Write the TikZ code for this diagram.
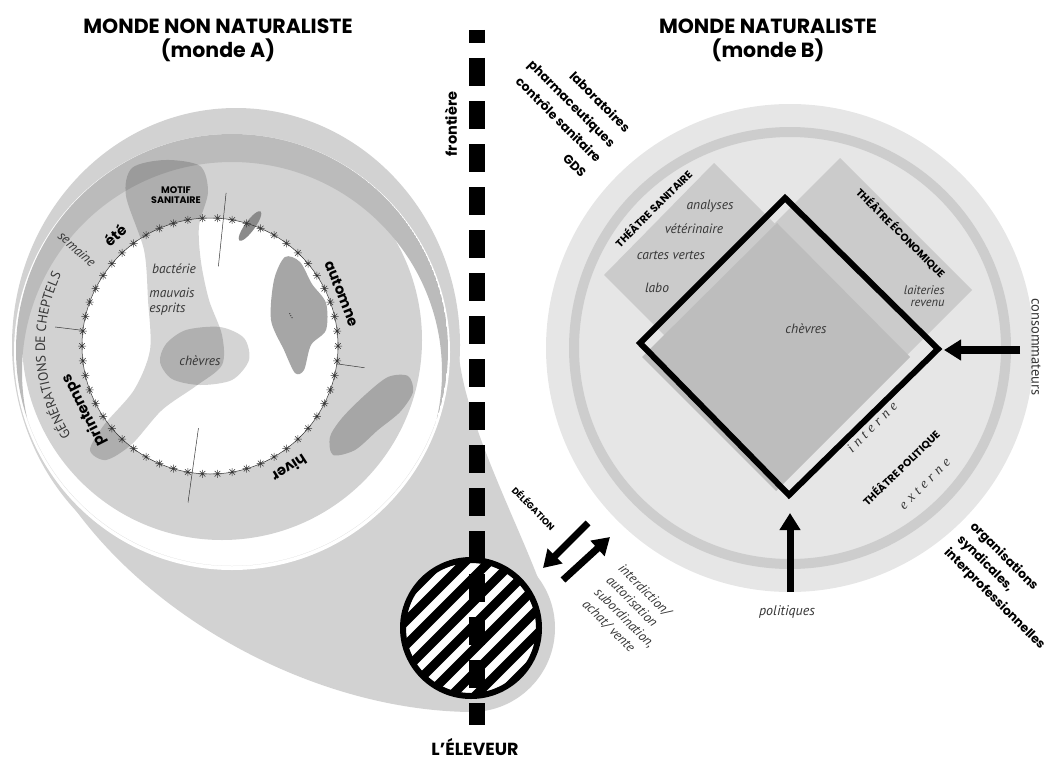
\documentclass[tikz,border=0pt]{standalone}
\usepackage{fontspec}
\setmainfont{PT Sans}
\newfontfamily\popfont{Poppins}
\newfontfamily\spacedserif[LetterSpace=30]{Liberation Serif}
\usetikzlibrary{calc,positioning,arrows.meta,decorations.text}
\definecolor{paleA}{HTML}{D2D2D2}
\definecolor{bandA}{HTML}{BBBBBB}
\definecolor{blobA}{HTML}{A6A6A6}
\definecolor{speckA}{HTML}{8A8A8A}
\definecolor{paleB}{HTML}{E6E6E6}
\definecolor{ringB}{HTML}{CDCDCD}
\definecolor{stageB}{HTML}{CBCBCB}
\definecolor{coreB}{HTML}{BDBDBD}
\definecolor{inkgray}{HTML}{363636}
\tikzset{
  monde/.style={font=\popfont\bfseries\fontsize{20.5}{24}\selectfont, align=center},
  boldlbl/.style={font=\popfont\bfseries\fontsize{12.5}{14}\selectfont},
  seasonlbl/.style={font=\popfont\bfseries\fontsize{14.5}{16}\selectfont},
  stagelbl/.style={font=\popfont\bfseries\fontsize{10.5}{12}\selectfont},
  itlbl/.style={font=\itshape\fontsize{13.5}{15}\selectfont, text=inkgray},
  seriflbl/.style={font=\spacedserif\itshape\fontsize{14}{16}\selectfont, text=inkgray},
  fatarrow/.style={line width=7pt, -{Triangle[length=17pt,width=20pt]}},
  tickline/.style={draw=inkgray, line width=.5pt},
  flake/.style={draw=inkgray, line width=.5pt},
}
\begin{document}
\begin{tikzpicture}[x=1pt,y=-1pt]
  \useasboundingbox (0,0) rectangle (1054,760);
  %
  \coordinate (clock) at (210,346);
  \coordinate (farmer) at (471,628);
  \coordinate (worldB) at (790,348);
  %
  % monde A : goutte, anneaux
  \fill[paleA] (236,345) ellipse [x radius=224, y radius=237];
  \fill[paleA] (14,345) .. controls (20,540) and (260,710) .. (471,712)
     -- (471,628) -- (554,628) .. controls (540,560) and (462,430) .. (458,345) -- cycle;
  \fill[paleA] (farmer) circle (84);
  \fill[white] (232,352) circle (218);
  \fill[paleA] (222,340) circle (200);
  \begin{scope}
    \clip (232,350) circle (216);
    \fill[bandA, even odd rule] (232,350) circle (216) (232,372) circle (210);
  \end{scope}
  \fill[white] (clock) circle (128);
  %
  % taches
  \fill[black, fill opacity=.17] plot[smooth cycle] coordinates {(165,160) (200,166) (208,192) (199,226) (201,262) (209,300) (222,335) (222,365) (196,386) (162,410) (132,444) (106,460) (90,450) (104,425) (134,390) (150,350) (148,300) (144,250) (126,196) (132,168)};
  \fill[black, fill opacity=.17] plot[smooth cycle] coordinates {(166,344) (186,330) (220,327) (244,338) (249,360) (232,380) (200,385) (172,379) (160,362)};
  \fill[blobA] plot[smooth cycle] coordinates {(285,257) (300,262) (312,284) (326,303) (326,330) (311,345) (304,370) (295,373) (284,350) (271,320) (274,280)};
  \fill[blobA] plot[smooth cycle] coordinates {(333,455) (330,437) (342,418) (365,395) (388,377) (408,376) (413,392) (400,412) (378,430) (355,450)};
  \fill[speckA, rotate around={54:(250,226)}] (250,226) ellipse [x radius=18, y radius=5];
  %
  % cadran
  \draw[flake] (clock) circle (128);
  \foreach \i in {0,...,53}
    \draw[flake] ($(clock)+(\i*6.6667:128)$) +(-4,0) -- +(4,0) +(0,-4) -- +(0,4)
      +(-2.8,-2.8) -- +(2.8,2.8) +(-2.8,2.8) -- +(2.8,-2.8);
  \draw[tickline] ($(clock)+(-84:80)$) -- ($(clock)+(-84:154)$);
  \draw[tickline] ($(clock)+(-173:128)$) -- ($(clock)+(-173:156)$);
  \draw[tickline] ($(clock)+(98:83)$) -- ($(clock)+(98:158)$);
  \draw[tickline] ($(clock)+(8:128)$) -- ($(clock)+(8:156)$);
  %
  \node[seasonlbl, rotate=40.6] (ete) at ($(clock)+(-130.6:146)$) {été};
  \node[seasonlbl, rotate=-68.4] (automne) at ($(clock)+(-21.6:142)$) {automne};
  \node[seasonlbl, rotate=-147] (hiver) at ($(clock)+(57:146)$) {hiver};
  \node[seasonlbl, rotate=117] (printemps) at ($(clock)+(-207:141)$) {printemps};
  \node[itlbl, rotate=-42] (semaine) at (77,249) {semaine};
  \path[decorate, decoration={text along path, text align=center, text color=inkgray,
      text={|\fontsize{13.5}{15}\selectfont|GÉNÉRATIONS DE CHEPTELS}}]
    ($(clock)+(-219:165)$) arc[start angle=-219, end angle=-148, radius=165];
  %
  \node[font=\popfont\bfseries\fontsize{9.5}{10.5}\selectfont, align=center] (motif) at (176,195) {MOTIF\\SANITAIRE};
  \node[itlbl] (bacterie) at (174,269) {bactérie};
  \node[itlbl, align=left, font=\itshape\fontsize{13.5}{15}\selectfont] (esprits) at (172,302) {mauvais\\esprits};
  \node[itlbl] (chevresA) at (200,361) {chèvres};
  \node[font=\fontsize{9}{9}\selectfont, rotate=-65] (points) at (291,316) {...};
  %
  % monde B
  \fill[paleB] (worldB) circle (244);
  \draw[ringB, line width=10pt] (worldB) circle (216);
  \fill[stageB] (714,163) -- (824,273) -- (714,385) -- (604,275) -- cycle;
  \fill[stageB] (840,158) -- (972,290) -- (862,400) -- (730,268) -- cycle;
  \fill[coreB] (777,223) -- (910,357) -- (776,491) -- (642,357) -- cycle;
  \coordinate (dT) at (785,198);
  \coordinate (dR) at (938,349);
  \coordinate (dB) at (789,495);
  \coordinate (dL) at (640,343);
  \draw[line width=6pt, line join=miter] (dT) -- (dR) -- (dB) -- (dL) -- cycle;
  %
  \node[stagelbl, rotate=45] (thsan) at (653,208) {THÉÂTRE SANITAIRE};
  \node[stagelbl, rotate=-45] (theco) at (901,233) {THÉÂTRE ÉCONOMIQUE};
  \node[stagelbl, rotate=44] (thpol) at (901,468) {THÉÂTRE POLITIQUE};
  \node[itlbl] (analyses) at (710,206) {analyses};
  \node[itlbl] (veto) at (694,229) {vétérinaire};
  \node[itlbl] (cartes) at (671,255) {cartes vertes};
  \node[itlbl] (labo) at (657,288) {labo};
  \node[itlbl, align=right, font=\itshape\fontsize{12.5}{12.5}\selectfont, anchor=east] (laiteries) at (948,296) {laiteries\\revenu};
  \node[itlbl] (chevresB) at (806,329) {chèvres};
  \node[seriflbl, rotate=45] (interne) at (872,427) {interne};
  \node[seriflbl, rotate=45] (externe) at (925,484) {externe};
  %
  % acteurs
  \node[boldlbl, rotate=-45, anchor=mid east] (lab1) at (629,134) {laboratoires};
  \node[boldlbl, rotate=-45, anchor=mid east] (lab2) at (614,149) {pharmaceutiques};
  \node[boldlbl, rotate=-45, anchor=mid east] (lab3) at (600,164) {contrôle sanitaire};
  \node[boldlbl, rotate=-45, anchor=mid east] (lab4) at (585,179) {GDS};
  \node[font=\fontsize{14.5}{16}\selectfont, text=inkgray, rotate=-90] (consom) at (1036,347) {consommateurs};
  \node[itlbl, font=\itshape\fontsize{14}{15}\selectfont] (politiques) at (787,612) {politiques};
  \node[boldlbl, rotate=-45, anchor=mid west] (org1) at (969,523) {organisations};
  \node[boldlbl, rotate=-45, anchor=mid west] (org2) at (956,536) {syndicales,};
  \node[boldlbl, rotate=-45, anchor=mid west] (org3) at (943,549) {interprofessionnelles};
  \node[itlbl, rotate=-45, anchor=mid west] (int1) at (617,565) {interdiction/};
  \node[itlbl, rotate=-45, anchor=mid west] (int2) at (605,577) {autorisation};
  \node[itlbl, rotate=-45, anchor=mid west] (int3) at (593,589) {subordination,};
  \node[itlbl, rotate=-45, anchor=mid west] (int4) at (581,601) {achat/ vente};
  \node[font=\popfont\bfseries\fontsize{9}{10}\selectfont, rotate=-45] (deleg) at (534,508) {DÉLÉGATION};
  %
  \coordinate (consA) at (1020,350);
  \coordinate (polA) at (790,592);
  \draw[fatarrow, line width=8pt] (consA) -- ($(dR)+(6,1)$);
  \draw[fatarrow] (polA) -- ($(dB)+(1,18)$);
  \coordinate (delA) at (588,523);
  \coordinate (delB) at (543,568);
  \coordinate (retA) at (563,580);
  \coordinate (retB) at (610,537);
  \draw[fatarrow] (delA) -- (delB);
  \draw[fatarrow] (retA) -- (retB);
  %
  % eleveur et frontiere
  \fill[white] (farmer) circle (68);
  \begin{scope}
    \clip (farmer) circle (68);
    \foreach \k in {-6,...,6}
      \draw[line width=9pt] ($(farmer)+(\k*12,\k*12)+(-90,90)$) -- ($(farmer)+(\k*12,\k*12)+(90,-90)$);
  \end{scope}
  \draw[line width=6pt] (farmer) circle (68);
  \draw[line width=16pt, dash pattern=on 28pt off 15pt, dash phase=15pt] (477,30) -- (477,725);
  %
  \node[monde] (mondeA) at (218,40) {MONDE NON NATURALISTE\\(monde A)};
  \node[monde] (mondeB) at (768,40) {MONDE NATURALISTE\\(monde B)};
  \node[font=\popfont\bfseries\fontsize{14.5}{16}\selectfont, rotate=90] (frontiere) at (451,124) {frontière};
  \node[font=\popfont\bfseries\fontsize{17.5}{20}\selectfont] (eleveur) at (475,747) {L’ÉLEVEUR};
\end{tikzpicture}
\end{document}
